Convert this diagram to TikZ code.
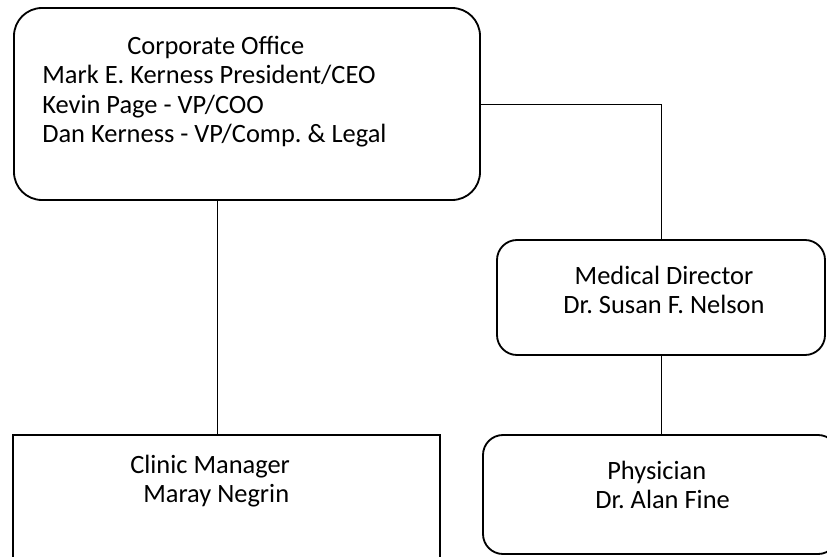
\documentclass[tikz,border=0pt]{standalone}
\usepackage{fontspec}
\setmainfont{Carlito}
\usetikzlibrary{positioning}
\frenchspacing

\begin{document}
\begin{tikzpicture}[font=\fontsize{18.8}{20.8}\selectfont,
    unit/.style={draw, line width=1.3pt, inner sep=0pt},
    roundunit/.style={unit, rounded corners=0.5cm},
    unittext/.style={inner sep=0pt},
    link/.style={line width=0.6pt}]
  \useasboundingbox (0,0) rectangle (20.675,13.9);
  \clip (0,0) rectangle (20.675,13.9);

  % --- Cajas ---
  \node[roundunit, rounded corners=0.7cm, minimum width=11.65cm, minimum height=4.8cm] (corp) at (6.175,11.3) {};
  \node[roundunit, minimum width=8.2cm, minimum height=2.875cm] (med) at (16.525,6.4625) {};
  \node[unit, minimum width=10.675cm, minimum height=3.525cm] (clinic) at (5.6625,1.2625) {};
  \node[roundunit, minimum width=8.875cm, minimum height=2.975cm] (phys) at (16.5125,1.5375) {};

  % --- Textos ---
  \node[unittext, anchor=north west, align=left] (corptext) at (1.05,13.0)
    {\hspace{2.125cm}Corporate Office\\
     Mark E. Kerness President/CEO\\
     Kevin Page - VP/COO\\
     Dan Kerness - VP/Comp. \& Legal};
  \node[unittext, anchor=north, align=center] (medtext) at (16.6,7.25)
    {Medical Director\\Dr. Susan F. Nelson};
  \node[unittext, anchor=north west, align=left] (clinictext) at (3.25,2.525)
    {Clinic Manager\\\hspace{0.325cm}Maray Negrin};
  \node[unittext, anchor=north west, align=left] (phystext) at (14.875,2.375)
    {\hspace{0.3cm}Physician\\Dr. Alan Fine};

  % --- Conectores ---
  \coordinate (drop) at ([xshift=-0.75cm]corp.south);
  \draw[link] (drop) -- (drop |- clinic.north);
  \draw[link] (corp.east) -| (med.north);
  \draw[link] (med.south) -- (med.south |- phys.north);
\end{tikzpicture}
\end{document}
